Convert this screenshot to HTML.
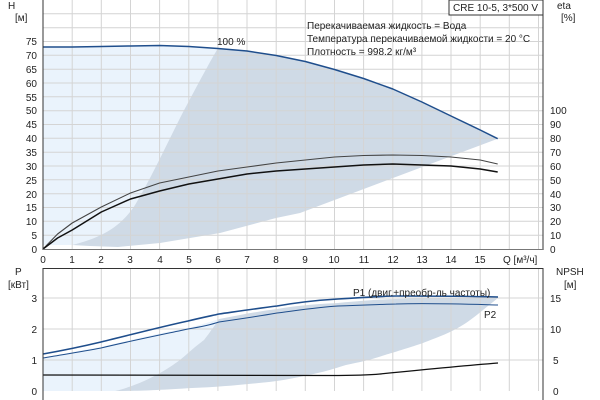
<!DOCTYPE html>
<html><head><meta charset="utf-8"><style>
html,body{margin:0;padding:0;background:#fff}
svg{display:block}
text{font-family:"Liberation Sans","DejaVu Sans",sans-serif;font-size:10px;fill:#222}
</style></head><body>
<svg width="600" height="400" viewBox="0 0 600 400" xmlns="http://www.w3.org/2000/svg">
<!-- TOP PLOT fills -->
<path d="M43,47 L72.2,47 L101.3,46.5 L130.5,46 L159.6,45.5 L188.8,46.5 L217.9,48.5 C215,56 200,80 180,118 C165,148 150,180 135,205 C120,228 100,238 72,245 L43,245 Z" fill="#eaf3fc"/>
<path d="M72,245 C100,238 120,228 135,205 C150,180 165,148 180,118 C200,80 212,58 217.9,48.5 L247,51 L276.2,55.5 L305.3,61.5 L334.5,69.5 L363.6,78.5 L392.8,89 L421.9,102 L451,116 L480.2,130 L497.7,138.7 L300,213 L276,218 L220,233 L160,243 L118,247 L90,246 Z" fill="#cfdae6"/>
<!-- top grid -->
<g stroke="#d4d4d4" stroke-width="1">
<line x1="72.2" y1="0" x2="72.2" y2="249"/><line x1="101.3" y1="0" x2="101.3" y2="249"/><line x1="130.5" y1="0" x2="130.5" y2="249"/><line x1="159.6" y1="0" x2="159.6" y2="249"/><line x1="188.8" y1="0" x2="188.8" y2="249"/><line x1="217.9" y1="0" x2="217.9" y2="249"/><line x1="247" y1="0" x2="247" y2="249"/><line x1="276.2" y1="0" x2="276.2" y2="249"/><line x1="305.3" y1="0" x2="305.3" y2="249"/><line x1="334.5" y1="0" x2="334.5" y2="249"/><line x1="363.6" y1="0" x2="363.6" y2="249"/><line x1="392.8" y1="0" x2="392.8" y2="249"/><line x1="421.9" y1="0" x2="421.9" y2="249"/><line x1="451" y1="0" x2="451" y2="249"/><line x1="480.2" y1="0" x2="480.2" y2="249"/><line x1="509.3" y1="0" x2="509.3" y2="249"/><line x1="538.5" y1="0" x2="538.5" y2="249"/>
<line x1="43" y1="235.2" x2="543" y2="235.2"/><line x1="43" y1="221.3" x2="543" y2="221.3"/><line x1="43" y1="207.5" x2="543" y2="207.5"/><line x1="43" y1="193.7" x2="543" y2="193.7"/><line x1="43" y1="179.8" x2="543" y2="179.8"/><line x1="43" y1="166" x2="543" y2="166"/><line x1="43" y1="152.2" x2="543" y2="152.2"/><line x1="43" y1="138.3" x2="543" y2="138.3"/><line x1="43" y1="124.5" x2="543" y2="124.5"/><line x1="43" y1="110.7" x2="543" y2="110.7"/><line x1="43" y1="96.8" x2="543" y2="96.8"/><line x1="43" y1="83" x2="543" y2="83"/><line x1="43" y1="69.2" x2="543" y2="69.2"/><line x1="43" y1="55.3" x2="543" y2="55.3"/><line x1="43" y1="41.5" x2="543" y2="41.5"/><line x1="43" y1="27.7" x2="543" y2="27.7"/><line x1="43" y1="13.8" x2="543" y2="13.8"/>
</g>
<!-- top curves -->
<polyline points="43,47 72.2,47 101.3,46.5 130.5,46 159.6,45.5 188.8,46.5 217.9,48.5 247,51 276.2,55.5 305.3,61.5 334.5,69.5 363.6,78.5 392.8,89 421.9,102 451,116 480.2,130 497.7,138.7" fill="none" stroke="#1f4e8c" stroke-width="1.5" stroke-linejoin="round"/>
<polyline points="43,249 57.6,234 72.2,223 101.3,207 130.5,193 159.6,183 188.8,177 217.9,171 247,167 276.2,163 305.3,160 334.5,157 363.6,155.5 392.8,155 421.9,155.5 451,157 480.2,160 497.7,164" fill="none" stroke="#444" stroke-width="1.1" stroke-linejoin="round"/>
<polyline points="43,249 57.6,238 72.2,230 101.3,212 130.5,199 159.6,191 188.8,184 217.9,179 247,174 276.2,171 305.3,169 334.5,167 363.6,165 392.8,164 421.9,165 451,166 480.2,169 497.7,172" fill="none" stroke="#111" stroke-width="1.5" stroke-linejoin="round"/>
<!-- top axes -->
<line x1="43" y1="0" x2="43" y2="250" stroke="#333"/>
<line x1="543" y1="0" x2="543" y2="250" stroke="#333"/>
<line x1="43" y1="249.5" x2="543" y2="249.5" stroke="#777"/>
<g text-anchor="end">
<text x="37" y="253">0</text><text x="37" y="239">5</text><text x="37" y="225">10</text><text x="37" y="211">15</text><text x="37" y="198">20</text><text x="37" y="184">25</text><text x="37" y="170">30</text><text x="37" y="156">35</text><text x="37" y="142">40</text><text x="37" y="128">45</text><text x="37" y="114">50</text><text x="37" y="101">55</text><text x="37" y="87">60</text><text x="37" y="73">65</text><text x="37" y="59">70</text><text x="37" y="45">75</text>
</g>
<g>
<text x="550" y="253">0</text><text x="550" y="239">10</text><text x="550" y="225">20</text><text x="550" y="211">30</text><text x="550" y="198">40</text><text x="550" y="184">50</text><text x="550" y="170">60</text><text x="550" y="156">70</text><text x="550" y="142">80</text><text x="550" y="128">90</text><text x="550" y="114">100</text>
</g>
<g text-anchor="middle">
<text x="43" y="263">0</text><text x="72" y="263">1</text><text x="101" y="263">2</text><text x="130" y="263">3</text><text x="160" y="263">4</text><text x="189" y="263">5</text><text x="218" y="263">6</text><text x="247" y="263">7</text><text x="276" y="263">8</text><text x="305" y="263">9</text><text x="334" y="263">10</text><text x="364" y="263">11</text><text x="393" y="263">12</text><text x="422" y="263">13</text><text x="451" y="263">14</text><text x="480" y="263">15</text>
</g>
<text x="503" y="263">Q [м³/ч]</text>
<text x="8" y="9">H</text><text x="15" y="21">[м]</text>
<text x="557" y="9">eta</text><text x="561" y="21">[%]</text>
<text x="217" y="45">100 %</text>
<rect x="449" y="0" width="94" height="15" fill="#fff" stroke="#333"/>
<text x="453" y="11">CRE 10-5, 3*500 V</text>
<text x="307" y="29">Перекачиваемая жидкость = Вода</text>
<text x="307" y="42">Температура перекачиваемой жидкости = 20 °C</text>
<text x="307" y="55">Плотность = 998.2 кг/м³</text>

<!-- BOTTOM PLOT -->
<path d="M43,358 C60,355 80,350 101,347 C130,340 160,333 188,328 C200,325 210,322 219,319 L204,340 L188,353 C170,370 140,385 115,391 L43,391 Z" fill="#eaf3fc"/>
<path d="M115,391 C140,385 170,370 188,353 C195,347 200,343 204,340 C210,332 215,325 219,319 C240,315 260,311 277,309 C300,305 320,304 338,303 C370,300 390,299 396,299 C430,298 460,298 498,298 C480,312 470,322 454,330 C440,337 430,340 423,343 C405,349 395,352 385,355 C370,360 360,362 346,365 C330,370 320,373 308,375 C295,378 285,380 269,382 C240,385 220,387 192,388 C160,390 140,391 115,391 Z" fill="#cfdae6"/>
<g stroke="#d4d4d4" stroke-width="1">
<line x1="72.2" y1="268" x2="72.2" y2="391"/><line x1="101.3" y1="268" x2="101.3" y2="391"/><line x1="130.5" y1="268" x2="130.5" y2="391"/><line x1="159.6" y1="268" x2="159.6" y2="391"/><line x1="188.8" y1="268" x2="188.8" y2="391"/><line x1="217.9" y1="268" x2="217.9" y2="391"/><line x1="247" y1="268" x2="247" y2="391"/><line x1="276.2" y1="268" x2="276.2" y2="391"/><line x1="305.3" y1="268" x2="305.3" y2="391"/><line x1="334.5" y1="268" x2="334.5" y2="391"/><line x1="363.6" y1="268" x2="363.6" y2="391"/><line x1="392.8" y1="268" x2="392.8" y2="391"/><line x1="421.9" y1="268" x2="421.9" y2="391"/><line x1="451" y1="268" x2="451" y2="391"/><line x1="480.2" y1="268" x2="480.2" y2="391"/><line x1="509.3" y1="268" x2="509.3" y2="391"/><line x1="538.5" y1="268" x2="538.5" y2="391"/>
<line x1="43" y1="298" x2="543" y2="298"/><line x1="43" y1="329" x2="543" y2="329"/><line x1="43" y1="360" x2="543" y2="360"/>
</g>
<path d="M43,354 C60,351 80,347 101,342 C130,335 160,327 188,321 C200,318 210,316 219,314 C240,311 260,308 277,306 C300,302 320,300 338,299 C370,297 390,296 396,296 C430,296 460,296 498,297" fill="none" stroke="#1f4e8c" stroke-width="1.6"/>
<path d="M43,358 C60,355 80,352 101,348 C130,341 160,335 188,329 C200,327 210,325 219,322 C240,319 260,316 277,313 C300,310 320,307 338,306 C370,305 390,304 396,304 C430,303 460,304 498,305" fill="none" stroke="#1f4e8c" stroke-width="1"/>
<path d="M43,375 L330,375.5 C360,375.5 370,375 380,374 C420,370 460,366 498,363" fill="none" stroke="#111" stroke-width="1.3"/>
<line x1="43" y1="268" x2="43" y2="400" stroke="#333"/>
<line x1="543" y1="268" x2="543" y2="400" stroke="#333"/>
<line x1="43" y1="268.5" x2="543" y2="268.5" stroke="#333"/>
<g text-anchor="end"><text x="37" y="302">3</text><text x="37" y="333">2</text><text x="37" y="364">1</text><text x="37" y="395">0</text></g>
<g><text x="550" y="302">15</text><text x="550" y="333">10</text><text x="553" y="364">5</text><text x="553" y="395">0</text></g>
<text x="15" y="275">P</text><text x="8" y="288">[кВт]</text>
<text x="556" y="275">NPSH</text><text x="564" y="288">[м]</text>
<text x="353" y="296">P1 (двиг.+преобр-ль частоты)</text>
<text x="484" y="318">P2</text>
</svg>
</body></html>
